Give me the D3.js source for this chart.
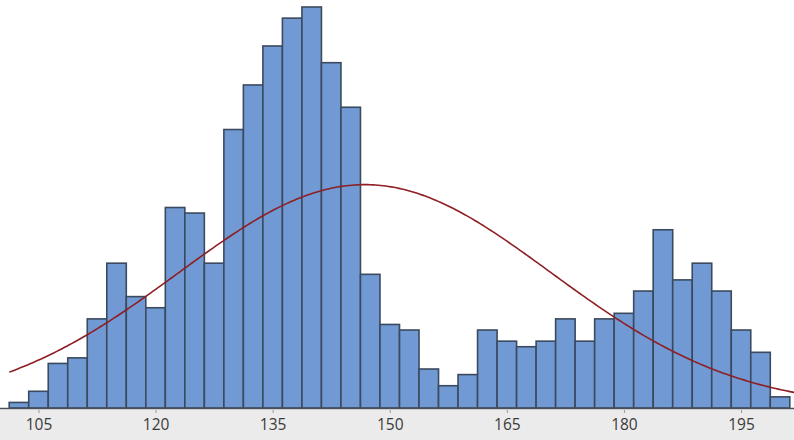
<!DOCTYPE html>
<html>
<head>
<meta charset="utf-8">
<script src="https://cdn.jsdelivr.net/npm/d3@7"></script>
<style>
  html, body { margin: 0; padding: 0; background: #ffffff; }
  svg { display: block; }
  .tick-label { font-family: "Open Sans", "Noto Sans", sans-serif; font-size: 15.5px; fill: #3a3a3a; }
</style>
</head>
<body>
<svg id="chart" width="794" height="440"></svg>
<script>
// Histogram bins: midpoints every 2.5 units, with their counts
const binMidpoints = d3.range(40).map(i => 102.5 + 2.5 * i);
const binWidth = 2.5;
const counts = [
  1, 3, 8, 9, 16, 26, 20, 18, 36, 35,
  26, 50, 58, 65, 70, 72, 62, 54, 24, 15,
  14, 7, 4, 6, 14, 12, 11, 12, 16, 12,
  16, 17, 21, 32, 23, 26, 21, 14, 10, 2
];
const tickValues = [105, 120, 135, 150, 165, 180, 195];

const width = 794, height = 440;
const plotLeft = 9.2, plotRight = 789.8, baseline = 408, plotTop = 7;

const svg = d3.select("#chart");

const x = d3.scaleLinear()
  .domain([binMidpoints[0] - binWidth / 2, binMidpoints[binMidpoints.length - 1] + binWidth / 2])
  .range([plotLeft, plotRight]);

const y = d3.scaleLinear()
  .domain([0, d3.max(counts)])
  .range([baseline, plotTop]);

// grey strip under the axis
svg.append("rect")
  .attr("x", 0).attr("y", baseline + 1.5)
  .attr("width", width).attr("height", height - baseline - 1.5)
  .attr("fill", "#ebebeb");

// bars
svg.append("g")
  .selectAll("rect")
  .data(binMidpoints.map((m, i) => ({ mid: m, n: counts[i] })))
  .join("rect")
  .attr("x", d => x(d.mid - binWidth / 2))
  .attr("y", d => y(d.n))
  .attr("width", d => x(d.mid + binWidth / 2) - x(d.mid - binWidth / 2))
  .attr("height", d => baseline - y(d.n))
  .attr("fill", "#7199d3")
  .attr("stroke", "#3b4a5e")
  .attr("stroke-width", 1.6);

// fitted normal curve from the binned data
const N = d3.sum(counts);
const mean = d3.sum(binMidpoints, (m, i) => m * counts[i]) / N;
const variance = d3.sum(binMidpoints, (m, i) => counts[i] * (m - mean) ** 2) / (N - 1);
const sd = Math.sqrt(variance);
const fitted = v => N * binWidth * Math.exp(-0.5 * ((v - mean) / sd) ** 2) / (sd * Math.sqrt(2 * Math.PI));

// curve runs from the left edge of the first bin to the right edge of the frame
const vStart = x.domain()[0];
const vEnd = x.invert(width);
const curvePts = d3.range(0, 301).map(k => {
  const v = vStart + (vEnd - vStart) * k / 300;
  return [v, fitted(v)];
});

svg.append("path")
  .datum(curvePts)
  .attr("fill", "none")
  .attr("stroke", "#8e1f24")
  .attr("stroke-width", 1.6)
  .attr("d", d3.line().x(d => x(d[0])).y(d => y(d[1])));

// x axis
const axis = d3.axisBottom(x)
  .tickValues(tickValues)
  .tickSize(3)
  .tickPadding(5)
  .tickFormat(d3.format("d"));

const axisG = svg.append("g")
  .attr("transform", `translate(0,${baseline})`)
  .call(axis);
axisG.select(".domain").remove();
axisG.selectAll(".tick line").attr("stroke", "#9a9a9a").attr("transform", "translate(0,2)");
axisG.selectAll(".tick text").attr("class", "tick-label").attr("dy", "0.9em");

svg.append("line")
  .attr("x1", 0).attr("x2", width)
  .attr("y1", baseline + 0.5).attr("y2", baseline + 0.5)
  .attr("stroke", "#4a4f58").attr("stroke-width", 1.6);
</script>
</body>
</html>
